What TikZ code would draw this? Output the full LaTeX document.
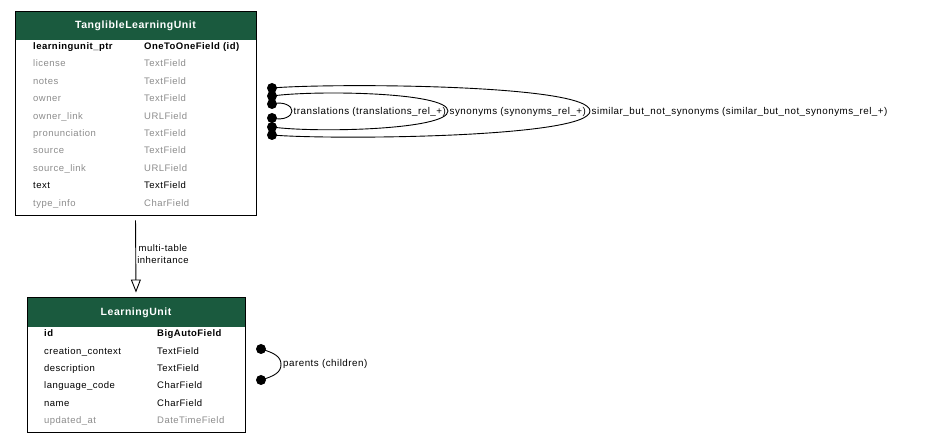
\documentclass[tikz,border=0pt]{standalone}
\usepackage{fontspec}
\setmainfont[LetterSpace=5]{Liberation Sans}
\usetikzlibrary{arrows.meta}
\definecolor{hdr}{RGB}{26,90,62}
\definecolor{dim}{RGB}{140,140,140}
\begin{document}
\begin{tikzpicture}[x=1pt,y=-1pt,
  cell/.style={anchor=base west,inner sep=0pt,font=\fontsize{9.5}{11}\selectfont},
  keycell/.style={cell,font=\fontsize{9.5}{11}\selectfont\bfseries},
  faint/.style={cell,text=dim},
  title/.style={fill=hdr,text=white,inner sep=0pt,font=\fontsize{10.5}{12}\selectfont\bfseries},
  frame/.style={draw=black,line width=0.9pt,inner sep=0pt},
  enddot/.style={circle,fill=black,inner sep=0pt,minimum size=10pt},
  rel/.style={line width=0.9pt},
  lbl/.style={anchor=base west,inner sep=0pt,font=\fontsize{9.8}{11}\selectfont}]
\useasboundingbox (0,0) rectangle (943,443);

% ---- TanglibleLearningUnit ----
\node[title,minimum width=240,minimum height=28] (tluhead) at (135.5,26) {TanglibleLearningUnit};
\node[frame,minimum width=241,minimum height=204] (tlu) at (135.5,113) {};
\node[keycell] (t1a) at (33,49.5) {learningunit\_ptr};
\node[keycell] (t1b) at (144,49.5) {OneToOneField (id)};
\node[faint] (t2a) at (33,67) {license};
\node[faint] (t2b) at (144,67) {TextField};
\node[faint] (t3a) at (33,84.4) {notes};
\node[faint] (t3b) at (144,84.4) {TextField};
\node[faint] (t4a) at (33,101.8) {owner};
\node[faint] (t4b) at (144,101.8) {TextField};
\node[faint] (t5a) at (33,119.2) {owner\_link};
\node[faint] (t5b) at (144,119.2) {URLField};
\node[faint] (t6a) at (33,136.6) {pronunciation};
\node[faint] (t6b) at (144,136.6) {TextField};
\node[faint] (t7a) at (33,154) {source};
\node[faint] (t7b) at (144,154) {TextField};
\node[faint] (t8a) at (33,171.4) {source\_link};
\node[faint] (t8b) at (144,171.4) {URLField};
\node[cell] (t9a) at (33,188.8) {text};
\node[cell] (t9b) at (144,188.8) {TextField};
\node[faint] (t10a) at (33,206.2) {type\_info};
\node[faint] (t10b) at (144,206.2) {CharField};

% ---- LearningUnit ----
\node[title,minimum width=217,minimum height=29] (luhead) at (136,312.5) {LearningUnit};
\node[frame,minimum width=218,minimum height=135] (lu) at (136,364.5) {};
\node[keycell] (l1a) at (44,337) {id};
\node[keycell] (l1b) at (157,337) {BigAutoField};
\node[cell] (l2a) at (44,354.4) {creation\_context};
\node[cell] (l2b) at (157,354.4) {TextField};
\node[cell] (l3a) at (44,371.7) {description};
\node[cell] (l3b) at (157,371.7) {TextField};
\node[cell] (l4a) at (44,389) {language\_code};
\node[cell] (l4b) at (157,389) {CharField};
\node[cell] (l5a) at (44,406.3) {name};
\node[cell] (l5b) at (157,406.3) {CharField};
\node[faint] (l6a) at (44,423.6) {updated\_at};
\node[faint] (l6b) at (157,423.6) {DateTimeField};

% ---- inheritance arrow ----
\draw[rel,-{Triangle[open,length=13pt,width=10pt]},shorten <=5pt,shorten >=4pt] (tlu.south) -- (lu.north);
\node[align=center,inner sep=0pt,font=\fontsize{9.5}{12}\selectfont] (inh) at (163,254.5) {multi-table\\inheritance};

% ---- self relations of TanglibleLearningUnit ----
\node[enddot] (sa) at (272,88) {};
\node[enddot] (sb) at (272,135) {};
\node[enddot] (ya) at (272,96) {};
\node[enddot] (yb) at (272,127) {};
\node[enddot] (ta) at (272,104) {};
\node[enddot] (tb) at (272,118) {};
\coordinate (sx) at (590,111);
\coordinate (yx) at (448,111);
\coordinate (tx) at (292,111);
\draw[rel] (sa.center) .. controls (330,83) and (590,84) .. (sx) .. controls (590,138) and (330,140) .. (sb.center);
\draw[rel] (ya.center) .. controls (315,90) and (448,92) .. (yx) .. controls (448,130) and (315,133) .. (yb.center);
\draw[rel] (ta.center) .. controls (284,101) and (292,106) .. (tx) .. controls (292,116) and (284,121) .. (tb.center);
\node[lbl] (tl) at (293.5,114.5) {translations (translations\_rel\_+)};
\node[lbl] (yl) at (449.5,114.5) {synonyms (synonyms\_rel\_+)};
\node[lbl] (sl) at (591.5,114.5) {similar\_but\_not\_synonyms (similar\_but\_not\_synonyms\_rel\_+)};

% ---- self relation of LearningUnit ----
\node[enddot] (pa) at (261,349) {};
\node[enddot] (pb) at (261,380) {};
\coordinate (px) at (281,364.5);
\draw[rel] (pa.center) .. controls (275,353) and (281,357) .. (px) .. controls (281,372) and (275,376) .. (pb.center);
\node[lbl] (pl) at (283,366.5) {parents (children)};
\end{tikzpicture}
\end{document}
